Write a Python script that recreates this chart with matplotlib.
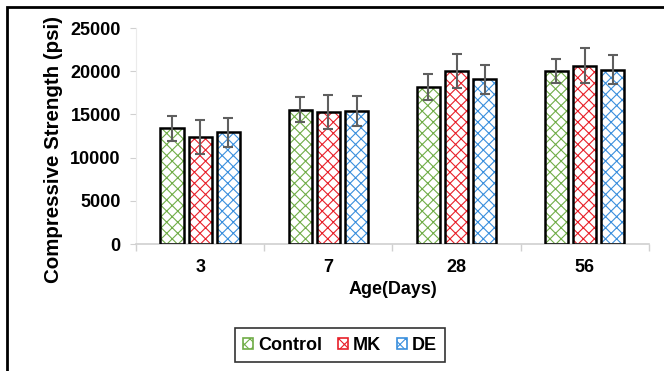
import numpy as np
import matplotlib.pyplot as plt
from matplotlib.patches import Rectangle, Patch

plt.rcParams['font.family'] = ['Liberation Sans', 'DejaVu Sans']
plt.rcParams['font.weight'] = 'bold'
plt.rcParams['hatch.linewidth'] = 0.8

ages = ["3", "7", "28", "56"]
series = ["Control", "MK", "DE"]
control = [13400, 15550, 18130, 19990]
mk = [12400, 15320, 19990, 20640]
de = [12930, 15400, 19060, 20180]
control_err = [1450, 1450, 1500, 1400]
mk_err = [1950, 1950, 1950, 2000]
de_err = [1650, 1750, 1700, 1700]

colors = ['#70AD47', '#E8202A', '#3A8FDD']
fs = 13

fig = plt.figure(figsize=(6.64, 3.71), dpi=100)
ax = fig.add_axes([0.205, 0.342, 0.772, 0.5825])

x = np.arange(len(ages))
w = 0.18
step = 0.22
for i, (vals, errs, c) in enumerate(zip([control, mk, de],
                                        [control_err, mk_err, de_err], colors)):
    pos = x + (i - 1) * step
    ax.bar(pos, vals, w, color='white', edgecolor=c, hatch='xxx', linewidth=0, zorder=2)
    ax.bar(pos, vals, w, color='none', edgecolor='black', linewidth=1.8, zorder=3)
    ax.errorbar(pos, vals, yerr=errs, fmt='none', ecolor='#5f5f5f',
                elinewidth=1.5, capsize=3.5, capthick=1.5, zorder=4)

ax.set_xlim(-0.5, len(ages) - 0.5)
ax.set_ylim(0, 25000)
ax.set_yticks(range(0, 25001, 5000))
ax.set_xticks(x)
ax.set_xticklabels(ages)
ax.set_xticks(np.arange(-0.5, len(ages)), minor=True)
ax.tick_params(axis='x', which='major', length=0, pad=11, labelsize=fs)
ax.tick_params(axis='x', which='minor', length=5, color='#D0D0D0', width=1)
ax.tick_params(axis='y', length=4, color='#D0D0D0', labelsize=fs, pad=7)

for s in ['top', 'right']:
    ax.spines[s].set_visible(False)
ax.spines['bottom'].set_color('#D0D0D0')
ax.spines['bottom'].set_linewidth(1.2)
ax.spines['left'].set_color('#EBEBEB')

ax.set_xlabel("Age(Days)", fontsize=fs, fontweight='bold', labelpad=3)
ax.set_ylabel("Compressive Strength (psi)", fontsize=14.8, fontweight='bold')
ax.yaxis.set_label_coords(-0.143, 0.44)

handles = [Patch(facecolor='white', edgecolor=c, hatch='xxx') for c in colors]
leg = fig.legend(handles, series, loc='center', bbox_to_anchor=(0.512, 0.07),
                 ncol=3, frameon=True, fancybox=False, handlelength=0.55,
                 handleheight=0.55, handletextpad=0.25, columnspacing=0.9,
                 prop={'weight': 'bold', 'size': fs}, borderpad=0.45)
leg.get_frame().set_edgecolor('black')
leg.get_frame().set_linewidth(1.2)
for h in leg.legend_handles:
    h.set_linewidth(1.2)

fig.patches.append(Rectangle((7 / 664, -0.1), 1.2, 1.1 - 7 / 371,
                             transform=fig.transFigure, fill=False,
                             edgecolor='black', linewidth=2, zorder=10))

fig.savefig("out.png", dpi=100)
